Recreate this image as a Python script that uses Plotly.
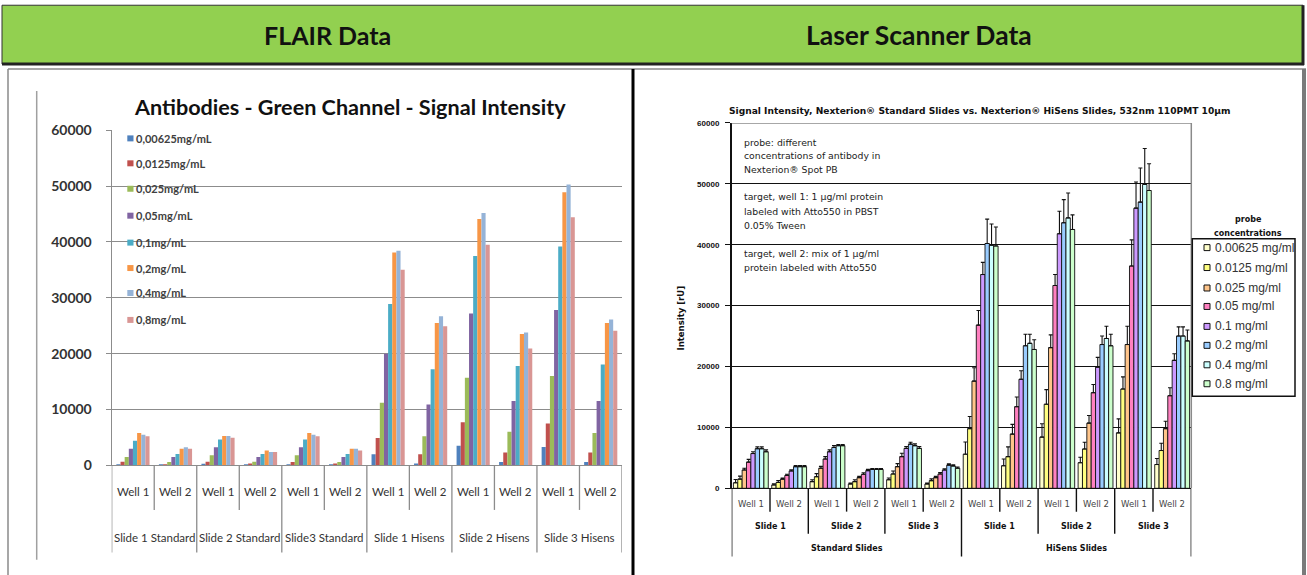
import plotly.graph_objects as go

W, H = 1307, 575
# the page is photographed with an 8px band above and below the figure,
# squeezed back to H rows; py() places layout items so they land on the
# intended rows of the final picture
PAGE_PAD = 8


def px(x):
    return x / W


def py(y):
    y_fig = y * (H + 2 * PAGE_PAD) / H - PAGE_PAD
    return 1 - y_fig / H


# ---------------- data ----------------
wells = ["Well 1", "Well 2"] * 6

flair_slides = ["Slide 1 Standard", "Slide 2 Standard", "Slide3 Standard",
                "Slide 1 Hisens", "Slide 2 Hisens", "Slide 3 Hisens"]
flair_names = ["0,00625mg/mL", "0,0125mg/mL", "0,025mg/mL", "0,05mg/mL",
               "0,1mg/mL", "0,2mg/mL", "0,4mg/mL", "0,8mg/mL"]
flair_colors = ["#4F81BD", "#C0504D", "#9BBB59", "#8064A2",
                "#4BACC6", "#F79646", "#95B3D7", "#D99694"]
flair_c0 = [80, 40, 300, 40, 80, 40, 2000, 350, 3500, 600, 3300, 600]
flair_c1 = [650, 80, 650, 350, 600, 350, 4900, 2000, 7700, 2300, 7500, 2300]
flair_c2 = [1500, 600, 1800, 650, 1800, 600, 11200, 5200, 15700, 6000, 16000, 5800]
flair_c3 = [2950, 1500, 3250, 1500, 3250, 1500, 20000, 10900, 27200, 11500, 27800, 11500]
flair_c4 = [4400, 2050, 4650, 2050, 4650, 2050, 28900, 17200, 37500, 17800, 39200, 18050]
flair_c5 = [5800, 2950, 5250, 2650, 5800, 2950, 38100, 25500, 44100, 23500, 48900, 25500]
flair_c6 = [5500, 3250, 5250, 2400, 5500, 2950, 38400, 26700, 45200, 23800, 50300, 26100]
flair_c7 = [5200, 2950, 4950, 2400, 5200, 2650, 35000, 24900, 39500, 20900, 44400, 24100]
flair_values = [flair_c0, flair_c1, flair_c2, flair_c3,
                flair_c4, flair_c5, flair_c6, flair_c7]

laser_slides = ["Slide 1", "Slide 2", "Slide 3"] * 2
laser_groups = ["Standard Slides", "HiSens Slides"]
laser_names = ["0.00625 mg/ml", "0.0125 mg/ml", "0.025 mg/ml", "0.05 mg/ml",
               "0.1 mg/ml", "0.2 mg/ml", "0.4 mg/ml", "0.8 mg/ml"]
laser_colors = ["#FFFFCC", "#FFFF80", "#FFC58A", "#FF80C0",
                "#CC99FF", "#99CCFF", "#CCFFFF", "#CCFFCC"]
laser_c0 = [900, 550, 1100, 700, 1400, 700, 5600, 3700, 8400, 4200, 9100, 3900]
laser_c1 = [1500, 950, 1900, 1100, 2350, 1250, 9800, 5200, 13800, 6450, 16300, 6200]
laser_c2 = [3000, 1500, 3300, 1750, 3550, 1750, 17600, 8900, 23100, 10700, 23600, 9800]
laser_c3 = [4300, 2100, 4800, 2300, 5200, 2350, 26800, 13400, 33300, 15700, 36500, 15200]
laser_c4 = [5700, 2850, 6000, 2900, 6550, 3000, 35100, 17900, 41800, 19900, 46000, 21000]
laser_c5 = [6500, 3550, 6700, 3100, 7250, 3800, 40200, 23400, 43600, 23600, 47000, 25000]
laser_c6 = [6500, 3550, 7000, 3100, 7000, 3650, 39900, 23800, 44400, 24600, 49900, 25000]
laser_c7 = [6000, 3550, 7000, 3100, 6550, 3300, 39800, 22800, 42500, 23400, 48900, 24200]
laser_values = [laser_c0, laser_c1, laser_c2, laser_c3,
                laser_c4, laser_c5, laser_c6, laser_c7]
laser_e0 = [550, 200, 300, 150, 300, 150, 2000, 1100, 2200, 900, 2300, 1000]
laser_e1 = [500, 300, 500, 300, 500, 300, 2000, 1600, 2400, 1100, 2000, 1200]
laser_e2 = [300, 200, 300, 200, 500, 200, 2200, 1600, 2100, 1250, 3000, 1200]
laser_e3 = [450, 200, 400, 250, 550, 250, 2400, 1600, 1800, 1350, 4300, 1300]
laser_e4 = [300, 200, 300, 200, 300, 200, 2000, 1400, 3700, 1600, 4300, 1100]
laser_e5 = [300, 200, 300, 150, 300, 200, 4000, 1900, 3800, 1400, 5600, 1500]
laser_e6 = [300, 200, 200, 150, 300, 200, 3500, 1500, 4100, 2000, 5900, 1500]
laser_e7 = [300, 200, 200, 150, 300, 200, 3100, 1600, 2400, 1900, 4400, 1800]
laser_errors = [laser_e0, laser_e1, laser_e2, laser_e3,
                laser_e4, laser_e5, laser_e6, laser_e7]

y_ticks = [0, 10000, 20000, 30000, 40000, 50000, 60000]

FLAIR_FONT = "Lato"
LASER_FONT = "Liberation Sans"
SMALL_FONT = "DejaVu Sans"

well_idx = list(range(len(wells)))
fig = go.Figure()

# ---------------- FLAIR bars ----------------
n = len(flair_values)
bw_l = 0.78 / n
for i, (vals, name, col) in enumerate(zip(flair_values, flair_names, flair_colors)):
    fig.add_trace(go.Bar(
        x=well_idx, y=vals, name=name, xaxis="x", yaxis="y",
        width=bw_l, offset=-0.39 + i * bw_l,
        marker=dict(color=col, line=dict(width=0)), showlegend=False))

# ---------------- Laser scanner bars ----------------
bw_r = 0.91 / n
for i, (vals, errs, name, col) in enumerate(zip(laser_values, laser_errors, laser_names, laser_colors)):
    fig.add_trace(go.Bar(
        x=well_idx, y=vals, name=name, xaxis="x2", yaxis="y2",
        width=bw_r, offset=-0.455 + i * bw_r,
        marker=dict(color=col, line=dict(color="#111", width=0.9)),
        error_y=dict(type="data", array=errs, symmetric=False,
                     arrayminus=[0] * len(errs), color="#111",
                     thickness=1.1, width=2),
        showlegend=False))

shapes = []
annotations = []


def line(x0, y0, x1, y1, color, width, xref="paper", yref="paper", layer="above"):
    shapes.append(dict(type="line", x0=x0, y0=y0, x1=x1, y1=y1, xref=xref, yref=yref,
                       line=dict(color=color, width=width), layer=layer))


def text(x, y, s, size, family, color="#111", bold=False, xanchor="center",
         xref="paper", textangle=0):
    annotations.append(dict(x=x, y=y, xref=xref, yref="paper", text=s, showarrow=False,
                            xanchor=xanchor, yanchor="middle", textangle=textangle,
                            font=dict(size=size, family=family, color=color,
                                      weight="bold" if bold else "normal")))


# ---------------- header band ----------------
shapes.append(dict(type="rect", xref="paper", yref="paper",
                   x0=px(2), x1=px(1303), y0=py(63), y1=py(4),
                   fillcolor="#92D050", line=dict(color="#333", width=1), layer="below"))
line(px(2), py(63), px(1304), py(63), "#222", 3)
line(px(1303), py(4), px(1303), py(64), "#222", 3)
text(px(327), py(34), "FLAIR Data", 25, FLAIR_FONT, "#111", True)
text(px(919), py(34), "Laser Scanner Data", 26.5, FLAIR_FONT, "#111", True)

# panel frames
line(px(8), py(68), px(1306), py(68), "#8a8a8a", 1.5)
line(px(8), py(68), px(8), py(590), "#8a8a8a", 1.5)
line(px(633), py(68), px(633), py(590), "#000", 3)
line(px(1304), py(68), px(1304), py(590), "#7a7a7a", 4)

# ---------------- FLAIR chart decorations ----------------
line(px(36.7), py(90), px(36.7), py(560), "#a0a0a0", 1.5)
text(px(350), py(106), "Antibodies - Green Channel - Signal Intensity", 21.6, FLAIR_FONT, "#111", True)

# category axis frame
line(-0.5, py(465.3), -0.5, py(552.7), "#8c8c8c", 1.3, xref="x")
for b in range(1, 13):
    bottom = 552.7 if b % 2 == 0 else 510
    line(b - 0.5, py(465.3), b - 0.5, py(bottom), "#8c8c8c", 1.3, xref="x")
for i, w in enumerate(wells):
    text(i, py(492), w, 11.5, FLAIR_FONT, "#333", xref="x")
for k, s in enumerate(flair_slides):
    text(2 * k + 0.5, py(538), s, 11.5, FLAIR_FONT, "#333", xref="x")

# legend
leg_y_l = [137.5, 162.5, 188, 215, 242, 267.5, 292.5, 319.5]
for name, col, yy in zip(flair_names, flair_colors, leg_y_l):
    shapes.append(dict(type="rect", xref="paper", yref="paper",
                       x0=px(127.3), x1=px(133.5), y0=py(yy + 3), y1=py(yy - 3),
                       fillcolor=col, line=dict(width=0), layer="above"))
    text(px(134.3), py(yy), name, 11, FLAIR_FONT, "#404040", True, xanchor="left")

# ---------------- Laser chart decorations ----------------
text(px(979.5), py(110),
     "Signal Intensity, Nexterion® Standard Slides vs. Nexterion® HiSens Slides, 532nm 110PMT 10µm",
     9.1, SMALL_FONT, "#111", True)
text(px(681), py(318), "Intensity [rU]", 8.5, SMALL_FONT, "#111", True, textangle=-90)

# plot-area border (top and right)
line(0, 60000, 1, 60000, "#8a8a8a", 1.5, xref="x2 domain", yref="y2")
line(1, 0, 1, 60000, "#8a8a8a", 1.5, xref="x2 domain", yref="y2")

# note box covering the grid
shapes.append(dict(type="rect", xref="paper", yref="paper",
                   x0=px(733), x1=px(891), y0=py(276), y1=py(124),
                   fillcolor="white", line=dict(width=0), layer="between"))
notes = [(142, "probe: different"), (155, "concentrations of antibody in"),
         (169, "Nexterion® Spot PB"), (196, "target, well 1: 1 µg/ml protein"),
         (210.5, "labeled with Atto550 in PBST"), (225, "0.05% Tween"),
         (252.5, "target, well 2: mix of 1 µg/ml"), (267, "protein labeled with Atto550")]
for yy, s in notes:
    text(px(742), py(yy), s, 9.3, SMALL_FONT, "#222", xanchor="left")

# multi-level category axis
line(-0.5, py(488.3), -0.5, py(556.7), "#111", 1.4, xref="x2")
for b in range(1, 13):
    if b in (6, 12):
        bottom = 556.7
    elif b % 2 == 0:
        bottom = 534
    else:
        bottom = 511.7
    line(b - 0.5, py(488.3), b - 0.5, py(bottom), "#111", 1.4, xref="x2")
for i, w in enumerate(wells):
    text(i, py(504), w, 8.5, SMALL_FONT, "#444", xref="x2")
for k, s in enumerate(laser_slides):
    text(2 * k + 0.5, py(527), s, 8, SMALL_FONT, "#111", True, xref="x2")
for g, s in enumerate(laser_groups):
    text(6 * g + 2.5, py(549), s, 8, SMALL_FONT, "#111", True, xref="x2")

# legend
shapes.append(dict(type="rect", xref="paper", yref="paper",
                   x0=px(1192.3), x1=px(1295), y0=py(396), y1=py(238),
                   fillcolor="white", line=dict(color="#111", width=1.5), layer="above"))
text(px(1248), py(218.5), "probe", 8, SMALL_FONT, "#111", True)
text(px(1248), py(233), "concentrations", 8, SMALL_FONT, "#111", True)
leg_y_r = [247, 267, 287.5, 306, 326, 345, 364.5, 383.5]
for name, col, yy in zip(laser_names, laser_colors, leg_y_r):
    shapes.append(dict(type="rect", xref="paper", yref="paper",
                       x0=px(1204), x1=px(1210), y0=py(yy + 3), y1=py(yy - 3),
                       fillcolor=col, line=dict(color="#111", width=1), layer="above"))
    text(px(1212.5), py(yy), name, 12, LASER_FONT, "#333", xanchor="left")

fig.update_layout(
    width=W, height=H, margin=dict(l=0, r=0, t=0, b=0),
    paper_bgcolor="white", plot_bgcolor="white",
    barmode="overlay", showlegend=False,
    shapes=shapes, annotations=annotations,
    xaxis=dict(domain=[px(111.7), px(622)], range=[-0.5, 11.5], showticklabels=False,
               showgrid=False, zeroline=False, showline=True, linecolor="#8c8c8c",
               linewidth=1.3, ticks=""),
    yaxis=dict(domain=[py(465.3), py(129.3)], range=[0, 60000], tickvals=y_ticks,
               tickformat="d",
               showgrid=True, gridcolor="#8c8c8c", gridwidth=1.4, zeroline=False,
               showline=True, linecolor="#8c8c8c", linewidth=1.3,
               ticks="outside", ticklen=5, tickcolor="#8c8c8c", tickwidth=1.4,
               ticklabelstandoff=11,
               tickfont=dict(family=FLAIR_FONT, size=14, color="#333", weight="bold")),
    xaxis2=dict(domain=[px(731.7), px(1191.3)], range=[-0.5, 11.5], anchor="y2",
                showticklabels=False, showgrid=False, zeroline=False, showline=True,
                linecolor="#111", linewidth=1.4, ticks=""),
    yaxis2=dict(domain=[py(488.3), py(122)], range=[0, 60000], tickvals=y_ticks,
                tickformat="d",
                anchor="x2", showgrid=True, gridcolor="#111", gridwidth=1.3,
                zeroline=False, showline=True, linecolor="#111", linewidth=1.5,
                ticks="outside", ticklen=5, tickcolor="#111", tickwidth=1.4,
                ticklabelstandoff=4,
                tickfont=dict(family=LASER_FONT, size=8, color="#111", weight="bold")),
)

fig.write_html("out.html")
